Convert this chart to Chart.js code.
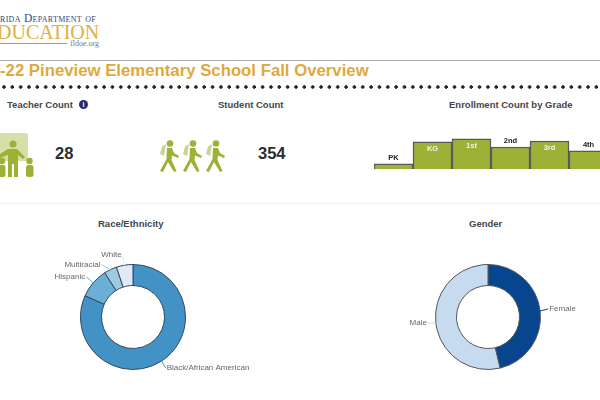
<!DOCTYPE html>
<html>
<head>
<meta charset="utf-8">
<script src="https://cdn.jsdelivr.net/npm/chart.js@4"></script>
<style>
html, body { margin: 0; width: 600px; height: 400px; overflow: hidden; background: #fff; font-family: "Liberation Sans", Arial, sans-serif; }
.t { position: absolute; white-space: nowrap; }
.head { font-size: 9.5px; font-weight: bold; color: #44464a; top: 99px; }
.big { font-size: 16.5px; font-weight: bold; color: #2b2d30; top: 144px; }
canvas, svg { position: absolute; }
</style>
</head>
<body>
<div class="t" style="left:0;top:12px;font:11.5px 'Liberation Serif';color:#35477d;font-variant:small-caps;letter-spacing:.3px">rida Department of</div>
<div class="t" style="left:-3px;top:21px;font:20px 'Liberation Serif';color:#e0b040">DUCATION</div>
<div style="position:absolute;left:0;top:43px;width:67px;height:1px;background:#8e9ac4"></div>
<div class="t" style="left:70px;top:39px;font:8px 'Liberation Serif';color:#6d7a9c">fldoe.org</div>
<div style="position:absolute;left:0;top:60px;width:600px;height:1px;background:#aaa"></div>
<div class="t" style="left:0;top:60px;font-size:16.75px;font-weight:bold;color:#dfa93a;line-height:22px">-22 Pineview Elementary School Fall Overview</div>
<div style="position:absolute;left:2px;top:85px;width:600px;height:4px;background:radial-gradient(circle at 2px 2px,#222 1.5px,transparent 1.9px) 0 0/8.35px 4px repeat-x"></div>
<div style="position:absolute;left:0;top:203px;width:600px;height:1px;background:#eeeeee"></div>

<div class="t head" style="left:7px">Teacher Count</div>
<div class="t" style="left:79px;top:100px;width:9px;height:9px;border-radius:50%;background:#262b6f;color:#fff;font:bold 7px/9px 'Liberation Sans';text-align:center">i</div>
<div class="t head" style="left:218px">Student Count</div>
<div class="t head" style="left:449px">Enrollment Count by Grade</div>
<div class="t big" style="left:55px">28</div>
<div class="t big" style="left:258px">354</div>
<div class="t head" style="left:98px;top:218px">Race/Ethnicity</div>
<div class="t head" style="left:469px;top:218px">Gender</div>

<svg width="40" height="50" style="left:0;top:130px" viewBox="0 0 40 50">
    <path d="M0 3H26a2 2 0 0 1 2 2V31H0Z" fill="#d5e0a8"/>
    <g fill="#9db137">
        <circle cx="13" cy="14" r="3.5"/>
        <path d="M0 24L8 19H17L25 27 23 29 18 25V47H14V34H12V47H8V25L0 28Z"/>
        <circle cx="29.5" cy="31" r="3.2"/><rect x="26" y="35" width="7.5" height="12" rx="2.5"/>
        <circle cx="2" cy="31" r="3.2"/><rect x="-2" y="35" width="7.5" height="12" rx="2.5"/>
    </g>
</svg>
<svg width="70" height="36" style="left:158px;top:139px" viewBox="0 0 70 36">
    <defs>
        <g id="walker">
            <path d="M3 7.5L7 5 5 17 1 15Z" fill="#c6d58f"/>
            <g fill="#9db137">
                <circle cx="11" cy="4.5" r="3.3"/>
                <path d="M8 9H13L15 14 20 17 19 19 13 16.5 12.5 21 17.5 32 15 33 9 23 4 33 1 32 7.5 20Z"/>
            </g>
        </g>
    </defs>
    <use href="#walker" x="1"/>
    <use href="#walker" x="24"/>
    <use href="#walker" x="47"/>
</svg>

<canvas id="gradeChart" width="234" height="40" style="left:374px;top:130px"></canvas>
<canvas id="raceChart" width="300" height="190" style="left:0;top:210px"></canvas>
<canvas id="genderChart" width="300" height="190" style="left:340px;top:210px"></canvas>

<script>
const grades = ['PK', 'KG', '1st', '2nd', '3rd', '4th'];
const gradeCounts = [12, 64, 71, 52, 66, 43];

const raceLabels = ['Black/African American', 'Hispanic', 'Multiracial', 'White'];
const raceCounts = [289, 33, 14, 18];
const raceColors = ['#4292c6', '#6baed6', '#9ecae1', '#deebf7'];

const genderLabels = ['Female', 'Male'];
const genderCounts = [164, 190];
const genderColors = ['#08458f', '#c6dbef'];

const gradeLabelPlugin = {
    id: 'gradeLabels',
    afterDatasetsDraw(chart) {
        const ctx = chart.ctx;
        ctx.save();
        ctx.font = 'bold 7.5px "Liberation Sans"';
        ctx.textAlign = 'center';
        ctx.textBaseline = 'middle';
        chart.getDatasetMeta(0).data.forEach((bar, i) => {
            const inside = gradeCounts[i] >= 60;
            ctx.fillStyle = inside ? '#f4f6e4' : '#222';
            ctx.fillText(grades[i], bar.x, inside ? bar.y + 7 : bar.y - 6);
        });
        ctx.restore();
    }
};

// leader line + label for every slice, placed from the arc's own angle
function sliceLabels(labels, colors, gap, offsets) {
    return {
        id: 'sliceLabels',
        afterDatasetsDraw(chart) {
            const ctx = chart.ctx;
            ctx.save();
            ctx.font = '8px "Liberation Sans"';
            ctx.textBaseline = 'middle';
            chart.getDatasetMeta(0).data.forEach((arc, i) => {
                const mid = (arc.startAngle + arc.endAngle) / 2;
                const x0 = arc.x + Math.cos(mid) * arc.outerRadius;
                const y0 = arc.y + Math.sin(mid) * arc.outerRadius;
                const x1 = x0 + offsets[i][0];
                const y1 = y0 + offsets[i][1];
                const right = Math.cos(mid) >= 0;
                ctx.strokeStyle = colors[i];
                ctx.lineWidth = 1;
                ctx.beginPath();
                ctx.moveTo(x0, y0);
                ctx.lineTo(x1, y1);
                ctx.stroke();
                ctx.fillStyle = '#66666a';
                ctx.textAlign = right ? 'left' : 'right';
                ctx.fillText(labels[i], x1 + (right ? gap : -gap), y1);
            });
            ctx.restore();
        }
    };
}

new Chart(document.getElementById('gradeChart'), {
    type: 'bar',
    data: {
        labels: grades,
        datasets: [{
            data: gradeCounts,
            backgroundColor: '#9db137',
            borderColor: '#58595b',
            borderWidth: 1.5,
            categoryPercentage: 1,
            barPercentage: 1
        }]
    },
    options: {
        responsive: false,
        animation: false,
        layout: { padding: { bottom: 1 } },
        plugins: { legend: { display: false }, tooltip: { enabled: false } },
        scales: {
            x: { display: false },
            y: { display: false, min: 0, max: 92 }
        }
    },
    plugins: [gradeLabelPlugin]
});

function donut(id, labels, values, colors, borderColor, padding, offsets) {
    new Chart(document.getElementById(id), {
        type: 'doughnut',
        data: {
            labels: labels,
            datasets: [{
                data: values,
                backgroundColor: colors,
                borderColor: borderColor,
                borderWidth: 1
            }]
        },
        options: {
            responsive: false,
            animation: false,
            cutout: '60%',
            layout: { padding: padding },
            plugins: { legend: { display: false }, tooltip: { enabled: false } }
        },
        plugins: [sliceLabels(labels, colors, 1, offsets)]
    });
}

donut('raceChart', raceLabels, raceCounts, raceColors, '#33475b',
    { left: 80, right: 114, top: 54, bottom: 30 },
    [[4, 7], [-7, -6], [-9, -5], [-2, -10]]);
donut('genderChart', genderLabels, genderCounts, genderColors, '#555',
    { left: 95, right: 99, top: 54, bottom: 30 },
    [[8, -2], [-8, 0]]);
</script>
</body>
</html>
